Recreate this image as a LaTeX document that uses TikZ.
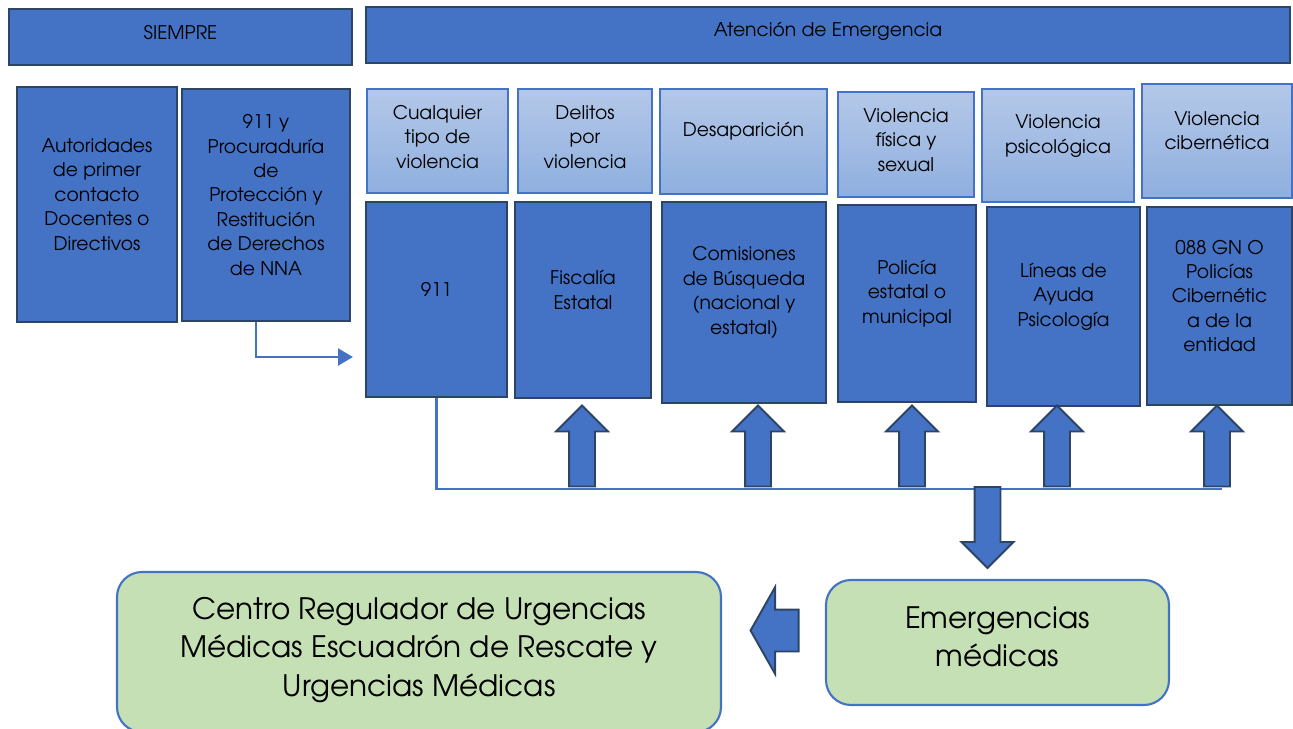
\documentclass[tikz,border=0pt]{standalone}
\usepackage{fontspec}
\setmainfont{TeX Gyre Adventor}
\usetikzlibrary{arrows.meta,shapes.arrows}

\definecolor{boxblue}{HTML}{4472C4}
\definecolor{boxedge}{HTML}{2D4565}
\definecolor{paletop}{HTML}{B4C8E8}
\definecolor{palebot}{HTML}{8FAFDF}
\definecolor{mintgreen}{HTML}{C5E0B4}

\tikzset{
  lbl/.style={align=center, font=\fontsize{10.7}{13.9}\selectfont, text=black},
  biglbl/.style={align=center, font=\fontsize{16.8}{21.8}\selectfont, text=black},
  darkbox/.style={draw=boxedge, line width=1.4pt, fill=boxblue, inner sep=0pt},
  palebox/.style={draw=boxblue, line width=1.1pt, top color=paletop, bottom color=palebot, inner sep=0pt},
  greenbox/.style={draw=boxblue, line width=1.2pt, fill=mintgreen, rounded corners=0.5cm, inner sep=0pt},
  conn/.style={draw=boxblue, line width=1.7pt},
  blockarrow/.style={single arrow, draw=boxedge, line width=1.1pt, fill=boxblue,
    inner xsep=0pt, single arrow head indent=0pt},
  uparrow/.style={blockarrow, rotate=90, inner ysep=0.24cm, minimum height=1.62cm, minimum width=1.0cm,
    single arrow head extend=0.26cm, single arrow tip angle=90},
}

\begin{document}
\begin{tikzpicture}
  \useasboundingbox (0,0) rectangle (25.86,-14.58);
  \clip (0,0) rectangle (25.86,-14.58);

  % headers
  \node[darkbox, minimum width=6.86cm, minimum height=1.12cm,
    label={[lbl, yshift=0.08cm]center:SIEMPRE}] (siempre) at (3.61,-0.74) {};
  \node[darkbox, minimum width=18.48cm, minimum height=1.12cm,
    label={[lbl, yshift=0.07cm]center:Atención de Emergencia}] (atencion) at (16.56,-0.70) {};

  % siempre column
  \node[darkbox, minimum width=3.2cm, minimum height=4.7cm,
    label={[lbl, yshift=0.2cm]center:{Autoridades\\de primer\\contacto\\Docentes o\\Directivos}}] (autor) at (1.94,-4.09) {};
  \node[darkbox, minimum width=3.36cm, minimum height=4.64cm,
    label={[lbl, yshift=0.2cm]center:{911 y\\Procuraduría\\de\\Protección y\\Restitución\\de Derechos\\de NNA}}] (proc) at (5.32,-4.10) {};

  % tipo de caso
  \node[palebox, minimum width=2.82cm, minimum height=2.08cm,
    label={[lbl, yshift=0.08cm]center:{Cualquier\\tipo de\\violencia}}] (cualq) at (8.75,-2.82) {};
  \node[palebox, minimum width=2.68cm, minimum height=2.08cm,
    label={[lbl, yshift=0.08cm]center:{Delitos\\por\\violencia}}] (delitos) at (11.70,-2.82) {};
  \node[palebox, minimum width=3.34cm, minimum height=2.10cm,
    label={[lbl, yshift=0.21cm]center:Desaparición}] (desap) at (14.87,-2.83) {};
  \node[palebox, minimum width=2.72cm, minimum height=2.10cm,
    label={[lbl, yshift=0.09cm]center:{Violencia\\física y\\sexual}}] (fisica) at (18.12,-2.89) {};
  \node[palebox, minimum width=3.04cm, minimum height=2.26cm,
    label={[lbl, yshift=0.19cm]center:{Violencia\\psicológica}}] (psico) at (21.16,-2.91) {};
  \node[palebox, minimum width=3.0cm, minimum height=2.28cm,
    label={[lbl, yshift=0.21cm]center:{Violencia\\cibernética}}] (ciber) at (24.34,-2.82) {};

  % instancias
  \node[darkbox, minimum width=2.82cm, minimum height=3.9cm,
    label={[lbl, yshift=0.2cm]center:911}] (n911) at (8.73,-5.99) {};
  \node[darkbox, minimum width=2.72cm, minimum height=3.92cm,
    label={[lbl, yshift=0.2cm]center:{Fiscalía\\Estatal}}] (fiscalia) at (11.66,-6.00) {};
  \node[darkbox, minimum width=3.28cm, minimum height=4.02cm,
    label={[lbl, yshift=0.2cm]center:{Comisiones\\de Búsqueda\\(nacional y\\estatal)}}] (comis) at (14.88,-6.05) {};
  \node[darkbox, minimum width=2.76cm, minimum height=3.94cm,
    label={[lbl, yshift=0.2cm]center:{Policía\\estatal o\\municipal}}] (policia) at (18.14,-6.07) {};
  \node[darkbox, minimum width=3.06cm, minimum height=3.98cm,
    label={[lbl, yshift=0.2cm]center:{Líneas de\\Ayuda\\Psicología}}] (lineas) at (21.27,-6.13) {};
  \node[darkbox, minimum width=2.9cm, minimum height=3.96cm,
    label={[lbl, yshift=0.2cm]center:{088 GN O\\Policías\\Cibernétic\\a de la\\entidad}}] (gn088) at (24.39,-6.12) {};

  % conectores
  \coordinate (in911) at (7.06,-7.14);
  \coordinate (busend) at (24.44,-9.78);
  \draw[conn, -{Triangle[length=8.5pt,width=9.5pt]}] ([xshift=-0.2cm]proc.south) |- (in911);
  \draw[conn] (n911.south) |- (busend);

  \node[uparrow] (up1) at (11.64,-9.05) {};
  \node[uparrow] (up2) at (15.16,-9.05) {};
  \node[uparrow] (up3) at (18.24,-9.05) {};
  \node[uparrow] (up4) at (21.14,-9.05) {};
  \node[uparrow] (up5) at (24.34,-9.05) {};

  % urgencias
  \node[uparrow, rotate=180] (down) at (19.75,-10.42) {};
  \node[greenbox, minimum width=6.86cm, minimum height=2.5cm,
    label={[biglbl, yshift=0.12cm]center:{Emergencias\\médicas}}] (emerg) at (19.95,-12.85) {};
  \node[blockarrow, rotate=180, inner ysep=0.4cm, minimum height=0.96cm, minimum width=1.7cm,
    single arrow head extend=0.45cm, single arrow tip angle=121] (left) at (15.61,-12.61) {};
  \node[greenbox, minimum width=12.08cm, minimum height=3.2cm,
    label={[biglbl, yshift=0.04cm]center:{Centro Regulador de Urgencias\\Médicas Escuadrón de Rescate y\\Urgencias Médicas}}] (centro) at (8.38,-13.04) {};
\end{tikzpicture}
\end{document}
